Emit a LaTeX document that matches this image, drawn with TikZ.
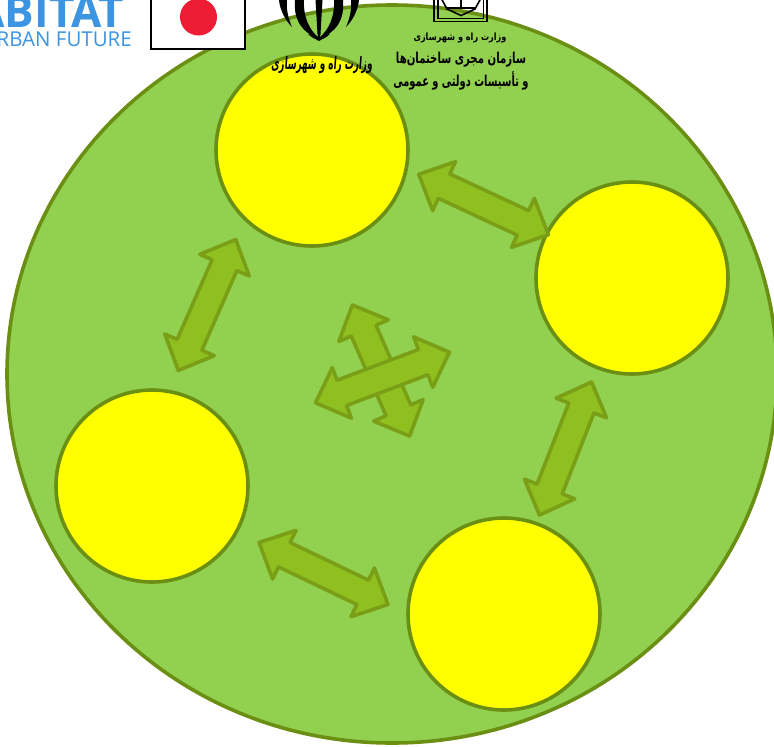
\documentclass[tikz,border=0pt]{standalone}
\usepackage{fontspec}
\usetikzlibrary{shapes.geometric}
\TeXXeTstate=1
\setmainfont{Open Sans}
\newfontfamily\farsi[Script=Arabic]{DejaVu Sans}
\newfontfamily\farsib[Script=Arabic]{DejaVu Sans Bold}
\definecolor{bggreen}{HTML}{92D050}
\definecolor{rimgreen}{HTML}{6A8F12}
\definecolor{arrowfill}{HTML}{90C020}
\definecolor{arrowrim}{HTML}{7A9E16}
\definecolor{hblue}{HTML}{3D94E0}
\definecolor{flagred}{HTML}{EE1C35}
\definecolor{pureyellow}{HTML}{FFFF00}
\tikzset{
  bigdisc/.style={ellipse,draw=rimgreen,fill=bggreen,line width=3.6pt},
  member/.style={circle,draw=rimgreen,fill=pureyellow,line width=3.6pt,minimum size=192pt,inner sep=0pt,outer sep=0pt},
  link/.style={draw=arrowrim,fill=arrowfill,line width=3.6pt,line join=round},
  caption/.style={inner sep=0pt,outer sep=0pt,text=black,transform shape},
  logo/.style={black,line width=1.6pt},
}
% double-headed block arrow: #1 rotation, #2 centre
\newcommand{\linkarrow}[2]{%
  \draw[link,shift={#2},rotate=#1]
    (-71.5,0) -- (-43.5,27) -- (-43.5,13.5) -- (43.5,13.5) -- (43.5,27) -- (71.5,0)
    -- (43.5,-27) -- (43.5,-13.5) -- (-43.5,-13.5) -- (-43.5,-27) -- cycle;}
\begin{document}
\begin{tikzpicture}[x=1pt,y=-1pt]
\useasboundingbox (0,0) rectangle (774,747);
\clip (0,0) rectangle (774,747);
\fill[white] (0,0) rectangle (774,747);
% main disc
\node[bigdisc,minimum width=770pt,minimum height=738pt,inner sep=0pt,outer sep=0pt] (disc) at (392,374) {};
% members
\node[member] (m1) at (312,150) {};
\node[member] (m2) at (632,278) {};
\node[member] (m3) at (152,486) {};
\node[member] (m4) at (504,614) {};
% arrows
\linkarrow{66.3}{(207,305)}
\linkarrow{-25}{(483.5,204.5)}
\linkarrow{68.6}{(565.5,448.5)}
\linkarrow{-25.7}{(323.5,573.5)}
\linkarrow{-66.4}{(381,370.5)}
\linkarrow{20.7}{(382.5,377.5)}
% habitat logo
\node[anchor=base east,inner sep=0pt,text=hblue,font=\fontsize{44}{44}\selectfont\bfseries] (hab) at (124.5,27) {ABITAT};
\node[anchor=base east,inner sep=0pt,text=hblue,font=\fontsize{20.5}{20.5}\selectfont] (urb) at (132,46.5) {RBAN FUTURE};
% flag
\draw[black,line width=1.4pt,fill=white] (151,-3) rectangle (245,49);
\fill[flagred] (198.5,17) circle (18.5);
% emblem
\fill[black] (315.5,0) -- (322.5,0) -- (320.5,34) -- (319,41) -- (317.5,34) -- cycle;
\fill[black] (295,0) .. controls (293,20) and (303,34) .. (319,38) .. controls (309,30) and (303,16) .. (304,0) -- cycle;
\fill[black] (343,0) .. controls (345,20) and (335,34) .. (319,38) .. controls (329,30) and (335,16) .. (334,0) -- cycle;
\fill[black] (279,0) .. controls (280,10) and (285,20) .. (292,27) .. controls (288,18) and (286,8) .. (287,0) -- cycle;
\fill[black] (359,0) .. controls (358,10) and (353,20) .. (346,27) .. controls (350,18) and (352,8) .. (351,0) -- cycle;
\fill[black] (308,34) .. controls (313,35) and (317,36) .. (319,38) .. controls (321,36) and (325,35) .. (330,34) .. controls (326,38) and (322,39) .. (319,41) .. controls (316,39) and (312,38) .. (308,34) -- cycle;
% ministry logo
\draw[logo] (434,-2) -- (434,21.5) -- (487,21.5) -- (487,-2);
\draw[logo] (438,-2) -- (438,18.5) -- (483.5,18.5) -- (483.5,-2);
\draw[logo] (441,-2) -- (447,9) -- (461,15.5) -- (475,9) -- (481,-2);
\draw[logo] (447,8) -- (475,8) (461,-2) -- (461,8);
% captions
\node[caption,xscale=0.814,font=\farsib\fontsize{10}{11}\selectfont] (t1) at (460,38) {\beginR وزارت راه و شهرسازی\endR};
\node[caption,xscale=0.677,font=\farsib\fontsize{15}{16}\selectfont] (t2) at (461,60) {\beginR سازمان مجری ساختمان‌ها\endR};
\node[caption,xscale=0.657,font=\farsib\fontsize{15}{16}\selectfont] (t3) at (461,81) {\beginR و تأسیسات دولتی و عمومی\endR};
\node[caption,xscale=0.522,xslant=0.15,font=\farsib\fontsize{17}{18}\selectfont] (t4) at (322,65) {\beginR وزارت راه و شهرسازی\endR};
\end{tikzpicture}
\end{document}
